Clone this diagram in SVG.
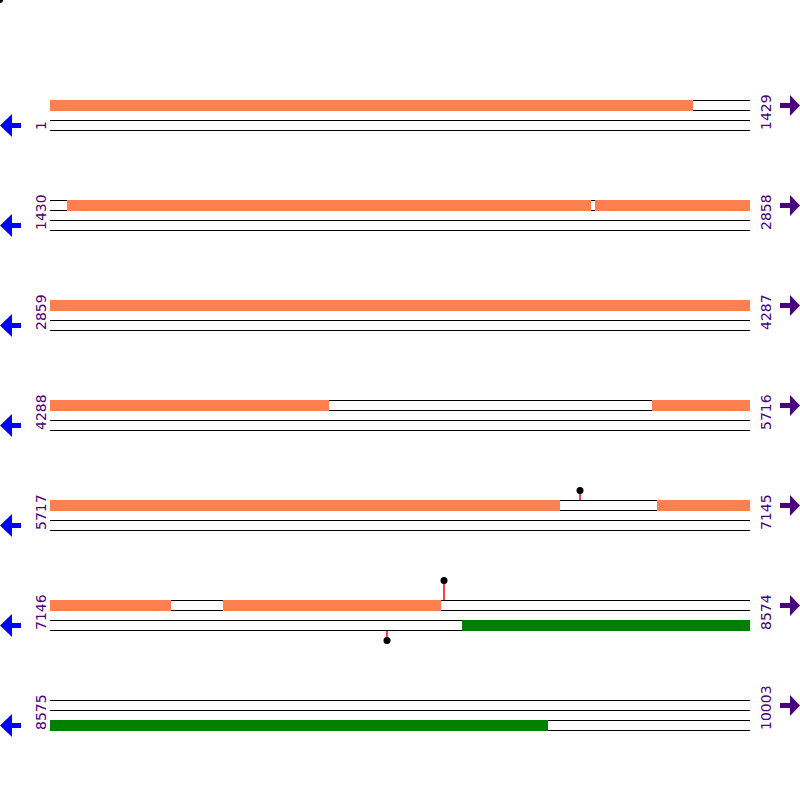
<svg xmlns="http://www.w3.org/2000/svg" width="800" height="800" viewBox="0 0 800 800">
<defs>
<style>
.trk{stroke:#000;stroke-width:1}
.fw{fill:#ff7f50}
.rv{fill:#008000}
.lbl{font-family:"DejaVu Sans",sans-serif;font-size:14px;fill:#4b0082}
.la{fill:#0000ff}
.ra{fill:#4b0082}
.stem{stroke:#ff0000;stroke-width:1.5}
.dot{fill:#000}
</style>
<polygon id="larrow" class="la" points="0,25.5 12,14 12,23 21,23 21,28 12,28 12,37"/>
<polygon id="rarrow" class="ra" points="780,3 790,3 790,-5 800,5.5 790,16 790,8 780,8"/>
<g id="tracks" class="trk">
<line x1="50" y1="100.5" x2="750" y2="100.5"/>
<line x1="50" y1="110.5" x2="750" y2="110.5"/>
<line x1="50" y1="120.5" x2="750" y2="120.5"/>
<line x1="50" y1="130.5" x2="750" y2="130.5"/>
</g>
</defs>
<rect width="800" height="800" fill="#fff"/>
<circle cx="0" cy="0" r="3" class="dot"/>
<g id="row1">
<use href="#tracks" y="0"/>
<rect class="fw" x="50" y="100" width="643" height="11"/>
<use href="#larrow" y="100"/><use href="#rarrow" y="100"/>
<text class="lbl" transform="translate(46,130) rotate(-90)">1</text>
<text class="lbl" transform="translate(771,130) rotate(-90)">1429</text>
</g>
<g id="row2">
<use href="#tracks" y="100"/>
<rect class="fw" x="67" y="200" width="524" height="11"/>
<rect class="fw" x="595" y="200" width="155" height="11"/>
<use href="#larrow" y="200"/><use href="#rarrow" y="200"/>
<text class="lbl" transform="translate(46,230) rotate(-90)">1430</text>
<text class="lbl" transform="translate(771,230) rotate(-90)">2858</text>
</g>
<g id="row3">
<use href="#tracks" y="200"/>
<rect class="fw" x="50" y="300" width="700" height="11"/>
<use href="#larrow" y="300"/><use href="#rarrow" y="300"/>
<text class="lbl" transform="translate(46,330) rotate(-90)">2859</text>
<text class="lbl" transform="translate(771,330) rotate(-90)">4287</text>
</g>
<g id="row4">
<use href="#tracks" y="300"/>
<rect class="fw" x="50" y="400" width="279" height="11"/>
<rect class="fw" x="652" y="400" width="98" height="11"/>
<use href="#larrow" y="400"/><use href="#rarrow" y="400"/>
<text class="lbl" transform="translate(46,430) rotate(-90)">4288</text>
<text class="lbl" transform="translate(771,430) rotate(-90)">5716</text>
</g>
<g id="row5">
<use href="#tracks" y="400"/>
<rect class="fw" x="50" y="500" width="510" height="11"/>
<rect class="fw" x="657" y="500" width="93" height="11"/>
<line class="stem" x1="580" y1="490" x2="580" y2="500"/>
<circle class="dot" cx="580" cy="490.5" r="3.5"/>
<use href="#larrow" y="500"/><use href="#rarrow" y="500"/>
<text class="lbl" transform="translate(46,530) rotate(-90)">5717</text>
<text class="lbl" transform="translate(771,530) rotate(-90)">7145</text>
</g>
<g id="row6">
<use href="#tracks" y="500"/>
<rect class="fw" x="50" y="600" width="121" height="11"/>
<rect class="fw" x="223" y="600" width="218" height="11"/>
<rect class="rv" x="462" y="620" width="288" height="11"/>
<line class="stem" x1="444" y1="580" x2="444" y2="600"/>
<circle class="dot" cx="444" cy="580.5" r="3.5"/>
<line class="stem" x1="387" y1="631" x2="387" y2="640"/>
<circle class="dot" cx="387" cy="640.5" r="3.5"/>
<use href="#larrow" y="600"/><use href="#rarrow" y="600"/>
<text class="lbl" transform="translate(46,630) rotate(-90)">7146</text>
<text class="lbl" transform="translate(771,630) rotate(-90)">8574</text>
</g>
<g id="row7">
<use href="#tracks" y="600"/>
<rect class="rv" x="50" y="720" width="498" height="11"/>
<use href="#larrow" y="700"/><use href="#rarrow" y="700"/>
<text class="lbl" transform="translate(46,730) rotate(-90)">8575</text>
<text class="lbl" transform="translate(771,730) rotate(-90)">10003</text>
</g>
<g id="connectors"></g>
</svg>
